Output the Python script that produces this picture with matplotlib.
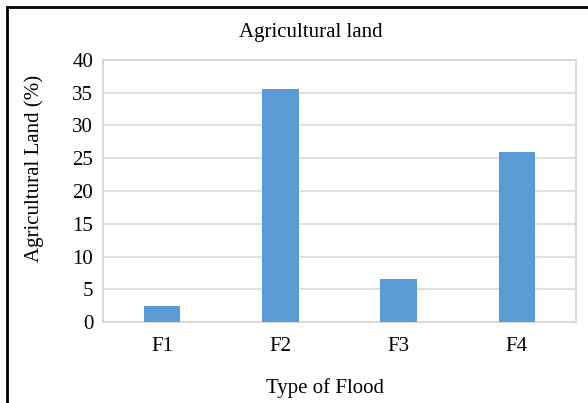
import matplotlib.pyplot as plt
from matplotlib.patches import Rectangle

# data
flood_types = ['F1', 'F2', 'F3', 'F4']
agri_land = [2.4, 35.6, 6.6, 26.0]
y_ticks = [0, 5, 10, 15, 20, 25, 30, 35, 40]

plt.rcParams['font.family'] = ['Liberation Serif', 'DejaVu Serif']

W, H = 588, 403
fig = plt.figure(figsize=(W / 100, H / 100), dpi=100)
ax = fig.add_axes([103 / W, 1 - 322 / H, (576 - 103) / W, (322 - 60) / H])

ax.bar(range(len(flood_types)), agri_land, width=0.31, color='#5B9BD5', zorder=3)

ax.set_xlim(-0.5, len(flood_types) - 0.5)
ax.set_ylim(0, 40)
ax.set_yticks(y_ticks)
ax.set_xticks(range(len(flood_types)))
ax.set_xticklabels(flood_types)
ax.tick_params(axis='both', length=0, labelsize=15)
ax.tick_params(axis='x', pad=11)
ax.tick_params(axis='y', pad=7)
ax.grid(axis='y', color='#d9d9d9', linewidth=1.2, zorder=0)
for sp in ax.spines.values():
    sp.set_color('#d9d9d9')
    sp.set_linewidth(1.5)

fig.text(311 / W, 1 - 32 / H, 'Agricultural land', ha='center', va='center', fontsize=15)
fig.text(325 / W, 1 - 388 / H, 'Type of Flood', ha='center', va='center', fontsize=15)
fig.text(34 / W, 1 - 168 / H, 'Agricultural Land (%)', ha='center', va='center',
         rotation=90, fontsize=15)

# outer chart frame (only top and left edges visible in the reference)
fig.add_artist(Rectangle((7 / W, -0.5), 2, 0.5 + 1 - 7 / H, transform=fig.transFigure,
                         fill=False, edgecolor='black', linewidth=2, clip_on=False))

fig.savefig('out.png', dpi=100)
